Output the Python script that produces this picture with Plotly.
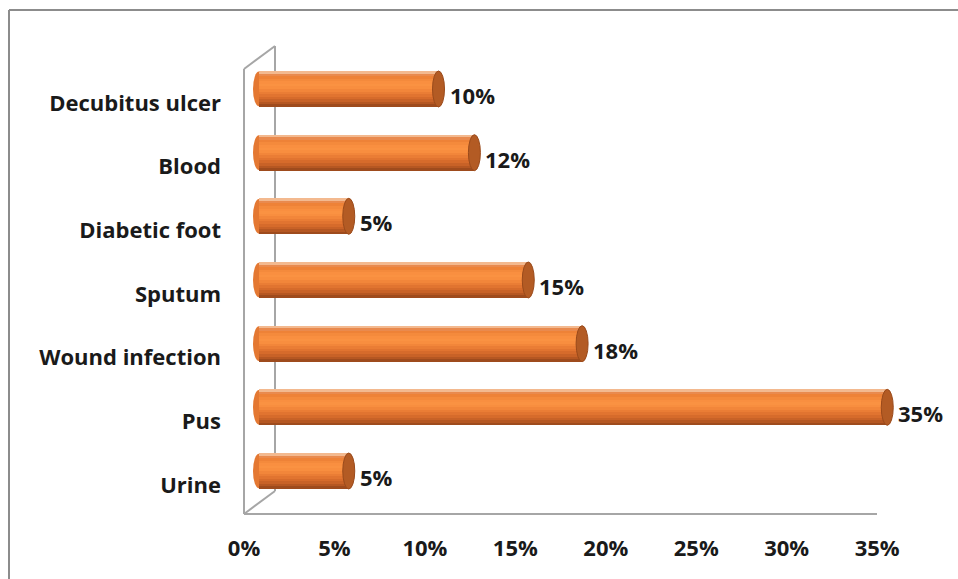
import plotly.graph_objects as go

# ---- data ----
categories = ["Urine", "Pus", "Wound infection", "Sputum", "Diabetic foot", "Blood", "Decubitus ulcer"]
values = [5, 35, 18, 15, 5, 12, 10]
x_ticks = [0, 5, 10, 15, 20, 25, 30, 35]
x_tick_labels = ["0%", "5%", "10%", "15%", "20%", "25%", "30%", "35%"]

# ---- geometry (pixels) ----
W, H = 958, 579
PL, PR, PT, PB = 244, 900, 40, 520          # plot area in px
PW, PH = PR - PL, PB - PT
SX_FRONT = 18.09                             # px per % on front axis
SX_BAR = 17.95                               # px per % on bar axis
BAR0_PX = 259                                # px where bars start
ROW = 63.67                                  # px per category
LABEL0_PY = 485                              # front label row 0
BAR0_PY = 471                                # bar row 0

def px(x):
    return (x - PL) / PW

def py(y):
    return (PB - y) / PH

pos = list(range(len(categories)))

bar_h = 36 / ROW
shade = ["#9E4B1D", "#B55722", "#C86227", "#D66B2B", "#E17430", "#EA7D35", "#F2863A",
         "#F88E3F", "#FA9242", "#F98F40", "#F48A3C", "#EE8237", "#E98A4E", "#F3B98F"]
n = len(shade)

fig = go.Figure()
# invisible anchor trace so the front axes are drawn
fig.add_trace(go.Scatter(x=[0] * len(pos), y=pos, mode="markers", marker=dict(opacity=0),
                         hoverinfo="skip", showlegend=False))
for k, c in enumerate(shade):
    fig.add_trace(go.Bar(
        x=values, y=pos, orientation="h", xaxis="x2", yaxis="y2",
        width=bar_h / n + 0.002, offset=-bar_h / 2 + k * bar_h / n,
        marker=dict(color=c, line=dict(width=0)),
        hoverinfo="skip", showlegend=False,
    ))

shapes = []
# chart border (top & left)
line_gray = dict(color="#8C8C8C", width=2)
shapes.append(dict(type="line", xref="paper", yref="paper", x0=px(9), y0=py(10), x1=px(W + 2), y1=py(10), line=line_gray))
shapes.append(dict(type="line", xref="paper", yref="paper", x0=px(9), y0=py(10), x1=px(9), y1=py(H + 2), line=line_gray))
# 3D walls
wall = dict(color="#A6A6A6", width=2)
for (xa, ya, xb, yb) in [(244, 514, 244, 69), (244, 69, 275, 46), (275, 46, 275, 491),
                         (244, 514, 275, 491), (244, 514, 877, 514)]:
    shapes.append(dict(type="line", xref="paper", yref="paper", x0=px(xa), y0=py(ya),
                       x1=px(xb), y1=py(yb), line=wall, layer="below"))

cap_w = 12 / SX_BAR
for v, p in zip(values, pos):
    # left rounded end
    shapes.append(dict(type="circle", xref="x2", yref="y2", x0=-cap_w / 2, x1=cap_w / 2,
                       y0=p - bar_h / 2 + 0.01, y1=p + bar_h / 2 - 0.01,
                       fillcolor="#E47832", line=dict(width=0), layer="below"))
    # right end cap
    shapes.append(dict(type="circle", xref="x2", yref="y2", x0=v - cap_w / 2, x1=v + cap_w / 2,
                       y0=p - bar_h / 2, y1=p + bar_h / 2,
                       fillcolor="#B35B24", line=dict(color="#9A4A1B", width=1), layer="above"))

font = dict(family="Open Sans", size=22, color="#1A1A1A", weight="bold")

annotations = []
for v, p in zip(values, pos):
    annotations.append(dict(x=v, y=p, xref="x2", yref="y2", text=f"{v}%", showarrow=False,
                            xanchor="left", yanchor="middle", xshift=9, yshift=-6, font=font))

fig.update_layout(
    width=W, height=H,
    margin=dict(l=PL, r=W - PR, t=PT, b=H - PB, pad=0),
    paper_bgcolor="white", plot_bgcolor="rgba(0,0,0,0)",
    barmode="overlay", bargap=0,
    showlegend=False,
    xaxis=dict(range=[0, PW / SX_FRONT], tickvals=x_ticks, ticktext=x_tick_labels,
               showgrid=False, zeroline=False, showline=False, ticks="",
               tickfont=font, ticklabelstandoff=13, fixedrange=True),
    yaxis=dict(range=[-(PB - LABEL0_PY) / ROW, (LABEL0_PY - PT) / ROW], tickvals=pos,
               ticktext=categories, showgrid=False, zeroline=False, showline=False,
               ticks="", tickfont=font, ticklabelstandoff=22, fixedrange=True),
    xaxis2=dict(range=[-(BAR0_PX - PL) / SX_BAR, (PR - BAR0_PX) / SX_BAR], overlaying="x",
                visible=False, fixedrange=True),
    yaxis2=dict(range=[-(PB - BAR0_PY) / ROW, (BAR0_PY - PT) / ROW], overlaying="y",
                visible=False, fixedrange=True),
    shapes=shapes, annotations=annotations,
)

fig.write_html("out.html", config={"displayModeBar": False})
